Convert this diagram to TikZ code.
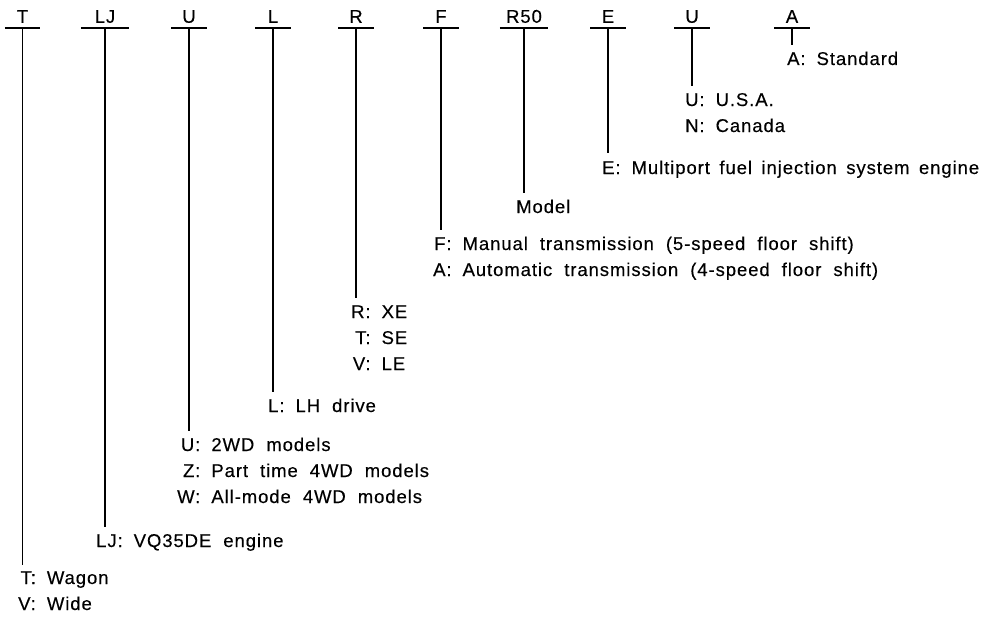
\documentclass[tikz,border=0pt]{standalone}
\usepackage{fontspec}
\setmainfont{Liberation Sans}[LetterSpace=5,FakeBold=0.3]
\newcommand{\diagfont}{\fontsize{18.5pt}{26pt}\selectfont\spaceskip=12pt\relax}
\newenvironment{codelist}{\begin{tabular}[t]{@{}r@{:\hspace{11pt}}l@{}}}{\end{tabular}}
\begin{document}
\begin{tikzpicture}[x=1pt,y=-1pt,
  code/.style={rectangle,inner xsep=0pt,inner ysep=5pt,text height=13pt,text depth=0pt,
    minimum width=35pt,anchor=south,font=\diagfont},
  widecode/.style={code,minimum width=48pt},
  desc/.style={anchor=base west,inner sep=0pt,font=\diagfont},
  bar/.style={line width=1.6pt},
  stem/.style={line width=1.6pt}]
\useasboundingbox (0,0) rectangle (993,618);
% code letters
\node[code] (cT) at (22.5,28) {T};
\node[widecode] (cLJ) at (105,28) {LJ};
\node[code] (cU) at (189,28) {U};
\node[code] (cL) at (273,28) {L};
\node[code] (cR) at (356,28) {R};
\node[code] (cF) at (441,28) {F};
\node[widecode] (cR50) at (524,28) {R50};
\node[code] (cE) at (608,28) {E};
\node[code] (cU2) at (692,28) {U};
\node[code] (cA) at (792,28) {A};
\foreach \n in {cT,cLJ,cU,cL,cR,cF,cR50,cE,cU2,cA}
  \draw[bar] (\n.south west) -- (\n.south east);
% stem ends
\coordinate (sT) at (22.5,565);
\coordinate (sLJ) at (105,527);
\coordinate (sU) at (189,431);
\coordinate (sL) at (273,392);
\coordinate (sR) at (356,298);
\coordinate (sF) at (441,230);
\coordinate (sR50) at (524,193);
\coordinate (sE) at (608,153);
\coordinate (sU2) at (692,86);
\coordinate (sA) at (792,45);
\draw[stem] (cT.south) -- (sT);
\draw[stem] (cLJ.south) -- (sLJ);
\draw[stem] (cU.south) -- (sU);
\draw[stem] (cL.south) -- (sL);
\draw[stem] (cR.south) -- (sR);
\draw[stem] (cF.south) -- (sF);
\draw[stem] (cR50.south) -- (sR50);
\draw[stem] (cE.south) -- (sE);
\draw[stem] (cU2.south) -- (sU2);
\draw[stem] (cA.south) -- (sA);
% descriptions
\node[desc] (dA) at (787,65) {\begin{codelist}A & Standard\end{codelist}};
\node[desc] (dU2) at (685,106) {\begin{codelist}U & U.S.A.\\ N & Canada\end{codelist}};
\node[desc] (dE) at (602,174) {\spaceskip=9.5pt\relax\begin{codelist}E & Multiport fuel injection system engine\end{codelist}};
\node[desc] (dR50) at (516,213) {Model};
\node[desc] (dF) at (433,250) {\begin{codelist}F & Manual transmission (5-speed floor shift)\\ A & Automatic transmission (4-speed floor shift)\end{codelist}};
\node[desc] (dR) at (351,318) {\begin{codelist}R & XE\\ T & SE\\ V & LE\end{codelist}};
\node[desc] (dL) at (268,412) {\begin{codelist}L & LH drive\end{codelist}};
\node[desc] (dU) at (177,451) {\begin{codelist}U & 2WD models\\ Z & Part time 4WD models\\ W & All-mode 4WD models\end{codelist}};
\node[desc] (dLJ) at (96,547) {\begin{codelist}LJ & VQ35DE engine\end{codelist}};
\node[desc] (dT) at (18,584) {\begin{codelist}T & Wagon\\ V & Wide\end{codelist}};
\end{tikzpicture}
\end{document}
